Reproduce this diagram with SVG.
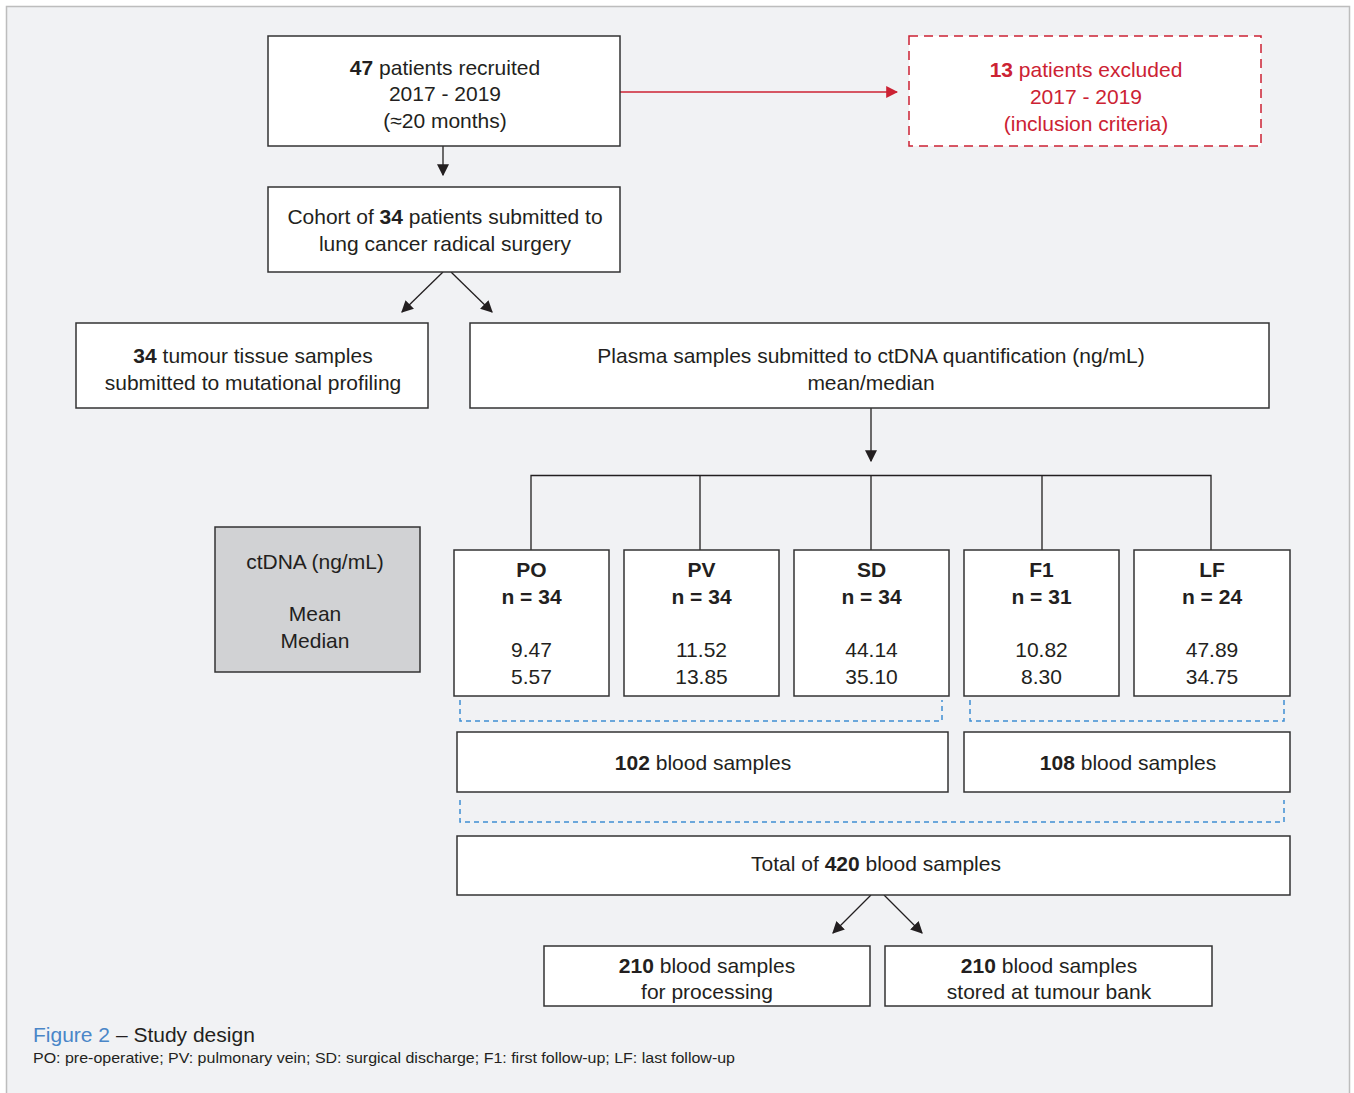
<svg xmlns="http://www.w3.org/2000/svg" width="1354" height="1093" viewBox="0 0 1354 1093">
<defs>
<marker id="ah" viewBox="0 0 10 10" refX="9" refY="5" markerWidth="12" markerHeight="12" markerUnits="userSpaceOnUse" orient="auto"><path d="M0,0 L10,5 L0,10 z" fill="#231f20"/></marker>
<marker id="ahr" viewBox="0 0 10 10" refX="9" refY="5" markerWidth="12" markerHeight="12" markerUnits="userSpaceOnUse" orient="auto"><path d="M0,0 L10,5 L0,10 z" fill="#cc2233"/></marker>
</defs>
<style>
text{font-family:"Liberation Sans",Arial,sans-serif;font-size:21px;fill:#231f20;text-anchor:middle}
.b{font-weight:bold}
.box{fill:#fff;stroke:#333;stroke-width:1.5}
.red{fill:#cc2233}
.ln{stroke:#231f20;stroke-width:1.3;fill:none}
.dash{stroke:#3f8fd2;stroke-width:1.5;fill:none;stroke-dasharray:5 4}
</style>
<rect x="0" y="0" width="1354" height="1093" fill="#fff"/>
<rect x="6.5" y="6.5" width="1343" height="1100" fill="#f1f2f4" stroke="#bdbdbd" stroke-width="1.5"/>

<g id="connectors">
<line class="ln" x1="620" y1="92" x2="897" y2="92" stroke="#cc2233" style="stroke:#cc2233" marker-end="url(#ahr)"/>
<line class="ln" x1="443" y1="146" x2="443" y2="175" marker-end="url(#ah)"/>
<line class="ln" x1="443" y1="272" x2="402" y2="312" marker-end="url(#ah)"/>
<line class="ln" x1="451" y1="272" x2="492" y2="312" marker-end="url(#ah)"/>
<line class="ln" x1="871" y1="408" x2="871" y2="461" marker-end="url(#ah)"/>
<path class="ln" d="M531,550 V475.5 H1211 V550 M700,475.5 V550 M871,475.5 V550 M1042,475.5 V550"/>
<path class="dash" d="M460,700 V721 H942 V700"/>
<path class="dash" d="M970,700 V721 H1284 V700"/>
<path class="dash" d="M460,800 V822 H1284 V800"/>
<line class="ln" x1="871" y1="895" x2="833" y2="933" marker-end="url(#ah)"/>
<line class="ln" x1="884" y1="895" x2="922" y2="933" marker-end="url(#ah)"/>
</g>

<g id="recruited">
<rect class="box" x="268" y="36" width="352" height="110"/>
<text x="445" y="75"><tspan class="b">47</tspan> patients recruited</text>
<text x="445" y="101">2017 - 2019</text>
<text x="445" y="128">(≈20 months)</text>
</g>

<g id="excluded">
<rect x="909" y="36" width="352" height="110" fill="#fff" stroke="#cc2233" stroke-width="1.5" stroke-dasharray="9 6"/>
<text class="red" x="1086" y="77"><tspan class="b">13</tspan> patients excluded</text>
<text class="red" x="1086" y="104">2017 - 2019</text>
<text class="red" x="1086" y="131">(inclusion criteria)</text>
</g>

<g id="cohort">
<rect class="box" x="268" y="187" width="352" height="85"/>
<text x="445" y="224">Cohort of <tspan class="b">34</tspan> patients submitted to</text>
<text x="445" y="251">lung cancer radical surgery</text>
</g>

<g id="tumour">
<rect class="box" x="76" y="323" width="352" height="85"/>
<text x="253" y="363"><tspan class="b">34</tspan> tumour tissue samples</text>
<text x="253" y="390">submitted to mutational profiling</text>
</g>

<g id="plasma">
<rect class="box" x="470" y="323" width="799" height="85"/>
<text x="871" y="363">Plasma samples submitted to ctDNA quantification (ng/mL)</text>
<text x="871" y="390">mean/median</text>
</g>

<g id="legend">
<rect x="215" y="527" width="205" height="145" fill="#d1d2d4" stroke="#333" stroke-width="1.5"/>
<text x="315" y="569">ctDNA (ng/mL)</text>
<text x="315" y="621">Mean</text>
<text x="315" y="648">Median</text>
</g>

<g id="po">
<rect class="box" x="454" y="550" width="155" height="146"/>
<text class="b" x="531.5" y="577">PO</text>
<text class="b" x="531.5" y="604">n = 34</text>
<text x="531.5" y="657">9.47</text>
<text x="531.5" y="684">5.57</text>
</g>
<g id="pv">
<rect class="box" x="624" y="550" width="155" height="146"/>
<text class="b" x="701.5" y="577">PV</text>
<text class="b" x="701.5" y="604">n = 34</text>
<text x="701.5" y="657">11.52</text>
<text x="701.5" y="684">13.85</text>
</g>
<g id="sd">
<rect class="box" x="794" y="550" width="155" height="146"/>
<text class="b" x="871.5" y="577">SD</text>
<text class="b" x="871.5" y="604">n = 34</text>
<text x="871.5" y="657">44.14</text>
<text x="871.5" y="684">35.10</text>
</g>
<g id="f1">
<rect class="box" x="964" y="550" width="155" height="146"/>
<text class="b" x="1041.5" y="577">F1</text>
<text class="b" x="1041.5" y="604">n = 31</text>
<text x="1041.5" y="657">10.82</text>
<text x="1041.5" y="684">8.30</text>
</g>
<g id="lf">
<rect class="box" x="1134" y="550" width="156" height="146"/>
<text class="b" x="1212" y="577">LF</text>
<text class="b" x="1212" y="604">n = 24</text>
<text x="1212" y="657">47.89</text>
<text x="1212" y="684">34.75</text>
</g>

<g id="blood102">
<rect class="box" x="457" y="732" width="491" height="60"/>
<text x="703" y="770"><tspan class="b">102</tspan> blood samples</text>
</g>
<g id="blood108">
<rect class="box" x="964" y="732" width="326" height="60"/>
<text x="1128" y="770"><tspan class="b">108</tspan> blood samples</text>
</g>

<g id="total">
<rect class="box" x="457" y="836" width="833" height="59"/>
<text x="876" y="871">Total of <tspan class="b">420</tspan> blood samples</text>
</g>

<g id="processing">
<rect class="box" x="544" y="946" width="326" height="60"/>
<text x="707" y="973"><tspan class="b">210</tspan> blood samples</text>
<text x="707" y="999">for processing</text>
</g>
<g id="bank">
<rect class="box" x="885" y="946" width="327" height="60"/>
<text x="1049" y="973"><tspan class="b">210</tspan> blood samples</text>
<text x="1049" y="999">stored at tumour bank</text>
</g>

<g id="caption">
<text x="33" y="1042" style="text-anchor:start;font-size:21px"><tspan fill="#4a86c8">Figure 2</tspan> – Study design</text>
<text x="33" y="1063" style="text-anchor:start;font-size:15px" textLength="702" lengthAdjust="spacingAndGlyphs">PO: pre-operative; PV: pulmonary vein; SD: surgical discharge; F1: first follow-up; LF: last follow-up</text>
</g>
</svg>
